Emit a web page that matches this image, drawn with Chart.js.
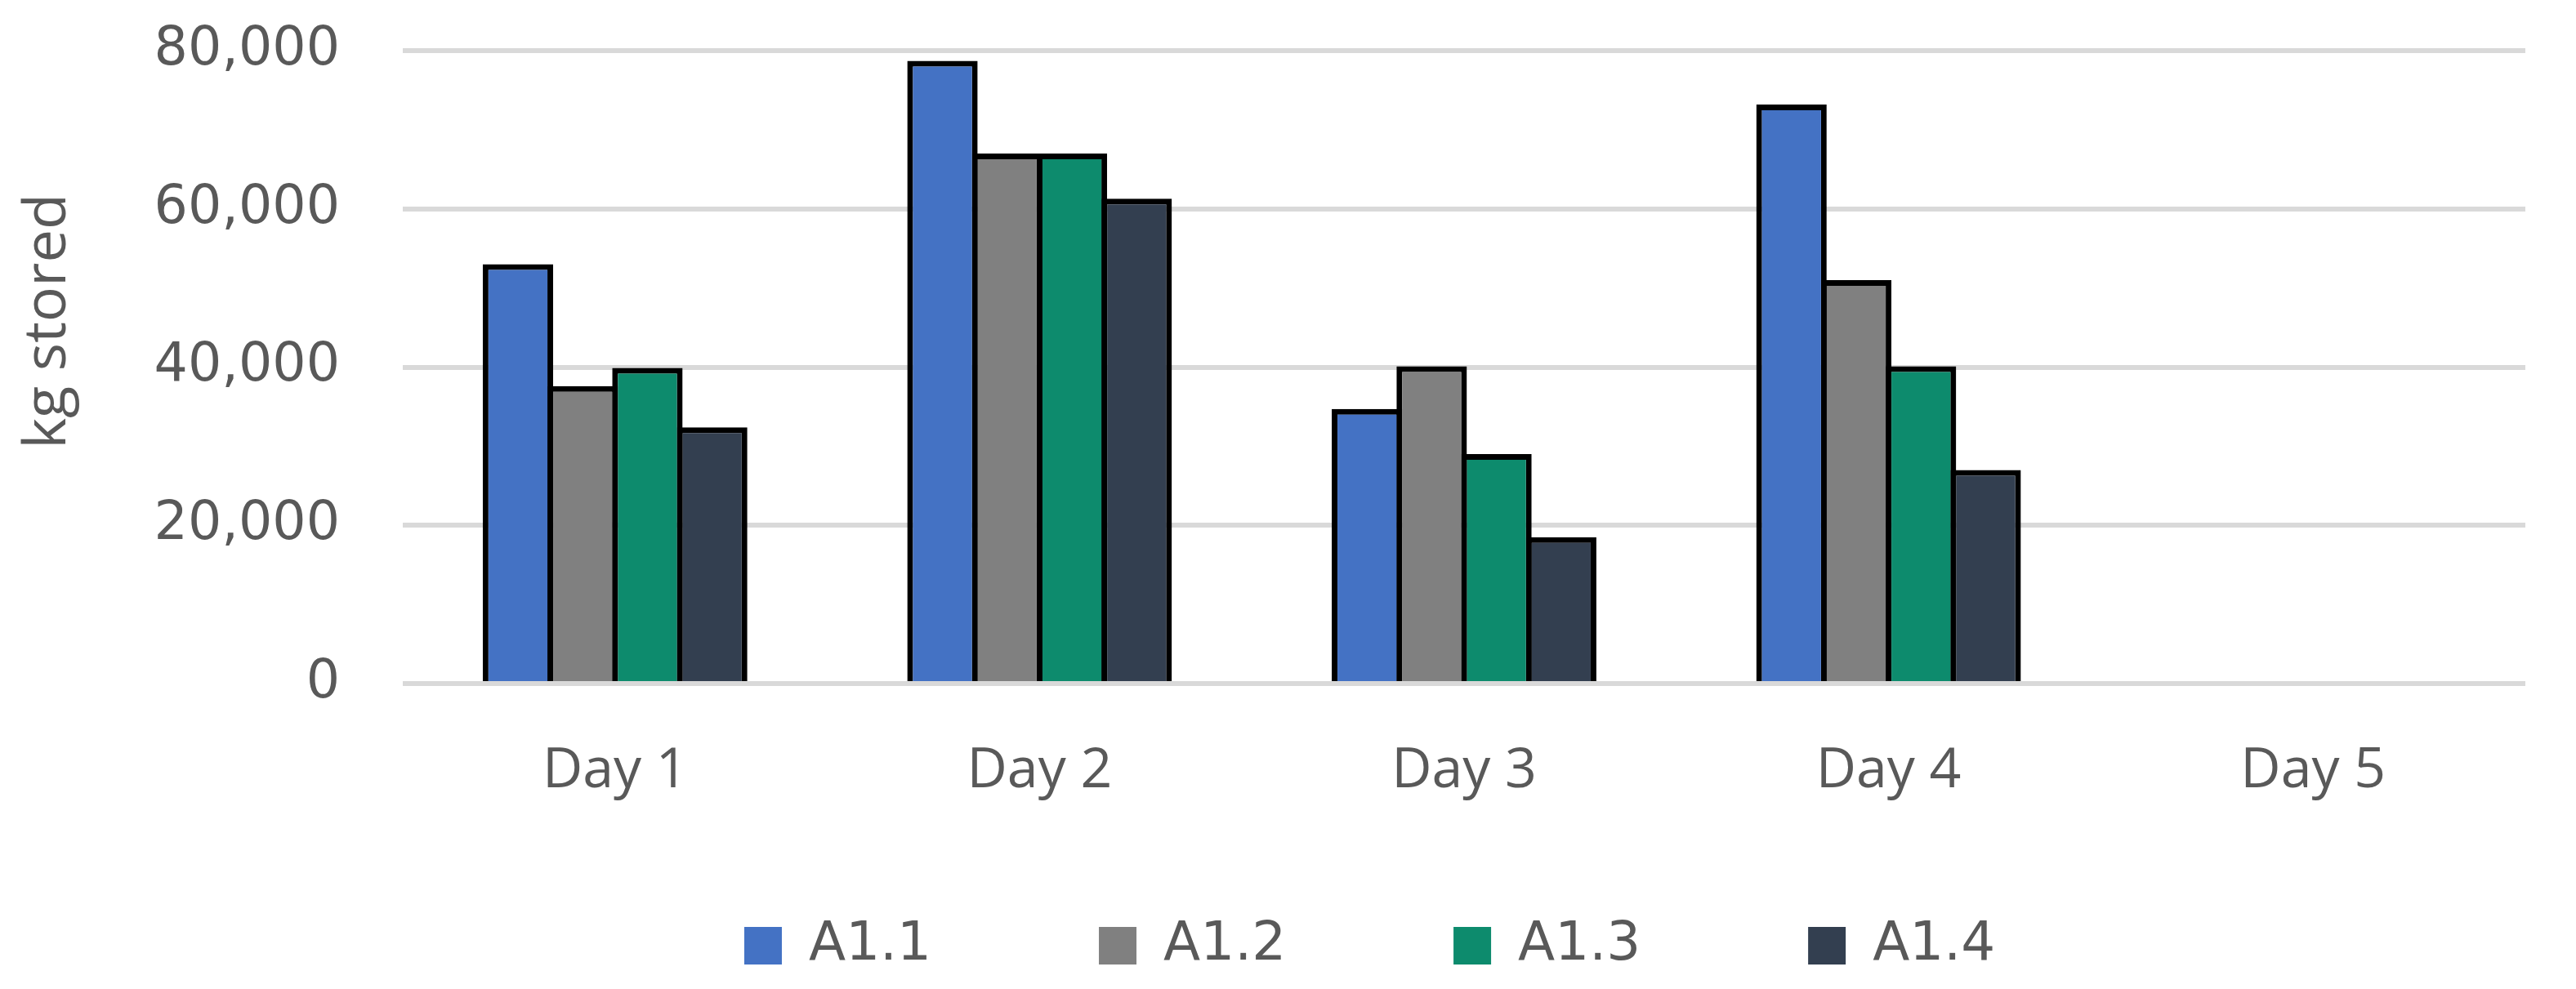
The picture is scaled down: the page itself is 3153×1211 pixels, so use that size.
<!DOCTYPE html>
<html>
<head>
<meta charset="utf-8">
<script src="https://cdn.jsdelivr.net/npm/chart.js@4.4.1/dist/chart.umd.min.js"></script>
<style>
  body { margin: 0; background: #ffffff; }
  #chart { display: block; }
</style>
</head>
<body>
<canvas id="chart" width="3153" height="1211"></canvas>
<script>
// data
var days = ['Day 1', 'Day 2', 'Day 3', 'Day 4', 'Day 5'];
var seriesNames = ['A1.1', 'A1.2', 'A1.3', 'A1.4'];
var a11 = [53000, 78700, 34700, 73200, null];
var a12 = [37600, 67000, 40100, 51000, null];
var a13 = [39900, 67000, 29000, 40100, null];
var a14 = [32400, 61300, 18500, 27000, null];
var yTicks = [0, 20000, 40000, 60000, 80000];

var colors = ['#4472C4', '#808080', '#0D8B6D', '#333F50'];
var textColor = '#595959';

function makeDataset(i, values) {
    return {
        label: seriesNames[i],
        data: values,
        backgroundColor: colors[i],
        borderColor: '#000000',
        borderWidth: 7,
        borderSkipped: 'start',
        categoryPercentage: 0.61,
        barPercentage: 1.088
    };
}

var ctx = document.getElementById('chart').getContext('2d');

new Chart(ctx, {
    type: 'bar',
    data: {
        labels: days,
        datasets: [
            makeDataset(0, a11),
            makeDataset(1, a12),
            makeDataset(2, a13),
            makeDataset(3, a14)
        ]
    },
    options: {
        responsive: false,
        animation: false,
        devicePixelRatio: 1,
        layout: {
            padding: { left: 0, right: 62, top: 62, bottom: 10 }
        },
        scales: {
            x: {
                grid: { display: false, drawTicks: false },
                border: { display: false },
                ticks: {
                    color: textColor,
                    font: { family: '"Open Sans"', size: 68 },
                    padding: 67
                },
                afterFit: function(scale) { scale.height = 146; }
            },
            y: {
                min: yTicks[0],
                max: yTicks[yTicks.length - 1],
                grid: { color: '#D9D9D9', lineWidth: 6, drawTicks: false },
                border: { display: false },
                ticks: {
                    stepSize: yTicks[1] - yTicks[0],
                    color: textColor,
                    font: { family: '"DejaVu Sans"', size: 65 },
                    padding: 77,
                    callback: function(value) { return value.toLocaleString('en-US'); }
                },
                title: {
                    display: true,
                    text: '      kg stored',
                    color: textColor,
                    font: { family: '"Open Sans"', size: 72 },
                    padding: { top: 16, bottom: 0 }
                },
                afterFit: function(scale) {
                    scale.width = 493;
                    scale.paddingTop = 0;
                    scale.paddingBottom = 0;
                }
            }
        },
        plugins: {
            tooltip: { enabled: false },
            legend: {
                position: 'bottom',
                fullSize: false,
                labels: {
                    color: textColor,
                    font: { family: '"DejaVu Sans"', size: 66 },
                    boxWidth: 46,
                    boxHeight: 46,
                    padding: 142,
                    generateLabels: function(chart) {
                        var items = Chart.defaults.plugins.legend.labels.generateLabels(chart);
                        items.forEach(function(item, i) {
                            item.lineWidth = 0;
                            item.strokeStyle = item.fillStyle;
                            // trailing room widens the entries; the last one pulls the row left
                            item.text += (i === items.length - 1) ? '           ' : '   ';
                        });
                        return items;
                    }
                }
            }
        }
    }
});
</script>
</body>
</html>
